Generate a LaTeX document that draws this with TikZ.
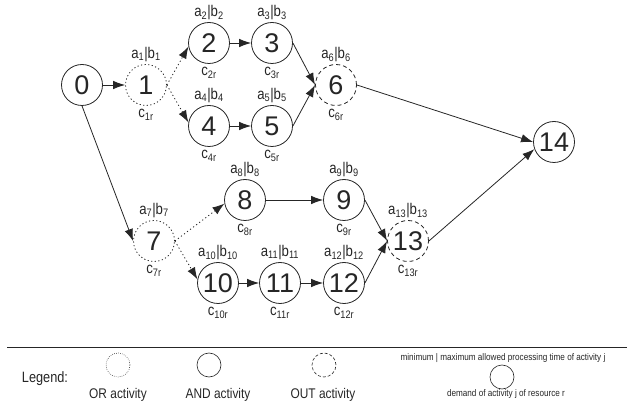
\documentclass[tikz,border=0pt]{standalone}
\usepackage{fontspec}
\setmainfont{Liberation Sans}
\newfontfamily\narrowfont[FakeStretch=0.85]{Liberation Sans}
\usetikzlibrary{arrows.meta,positioning}

\newcommand{\ab}[1]{a\textsubscript{#1}|b\textsubscript{#1}}
\newcommand{\cdem}[1]{c\textsubscript{#1r}}

\begin{document}
\begin{tikzpicture}[x=1pt, y=-1pt, >={Latex[length=12pt,width=8.5pt]}, line width=0.8pt, color={black!85},
  main node/.style={circle,draw,minimum size=41pt,inner sep=0pt,font=\fontsize{27}{27}\selectfont},
  or node/.style={main node,dash pattern=on 1.2pt off 2.4pt},
  out node/.style={main node,dash pattern=on 4pt off 3pt},
  or edge/.style={dash pattern=on 1.2pt off 2.6pt},
  lab/.style={inner sep=0pt,font=\narrowfont\fontsize{15.5}{15.5}\selectfont},
  key/.style={circle,draw,minimum size=24pt,inner sep=0pt,line width=0.6pt},
  keytext/.style={inner sep=0pt,font=\narrowfont\fontsize{14}{14}\selectfont},
  tinytext/.style={inner sep=0pt,font=\narrowfont\fontsize{9.6}{9.6}\selectfont}]
\useasboundingbox (0,0) rectangle (632,403);

\node [main node] (v0) at (82,85) {0};
\node [or node] (v1) at (146,85) {1};
\node [main node] (v2) at (209,43) {2};
\node [main node] (v3) at (272,43) {3};
\node [main node] (v4) at (209,126) {4};
\node [main node] (v5) at (272,126) {5};
\node [out node] (v6) at (336,85) {6};
\node [or node] (v7) at (154,241) {7};
\node [main node] (v8) at (245,200) {8};
\node [main node] (v9) at (344,200) {9};
\node [main node] (v10) at (218,283) {10};
\node [main node] (v11) at (280,283) {11};
\node [main node] (v12) at (344,283) {12};
\node [out node] (v13) at (408,241) {13};
\node [main node] (v14) at (554,142) {14};

% time window above, resource demand below
\foreach \n in {1,...,13} {
  \node [lab, above=2pt of v\n] (a\n) {\ab{\n}};
  \node [lab, below=3pt of v\n] (c\n) {\cdem{\n}};
}

\path [->]
    (v0) edge (v1)
    (v1.east) edge [or edge] (v2.190)
    (v1.east) edge [or edge] (v4.170)
    (v2) edge (v3)
    (v4) edge (v5)
    (v3.east) edge (v6.west)
    (v5.east) edge (v6.west)
    (v6.east) edge (v14.west)
    (v0.south) edge (v7.west)
    (v7.east) edge [or edge] (v8.190)
    (v7.east) edge [or edge] (v10.170)
    (v8) edge (v9)
    (v10) edge (v11)
    (v11) edge (v12)
    (v9.east) edge (v13.west)
    (v12.east) edge (v13.west)
    (v13.east) edge (v14.200)
         ;

% legend
\draw (7,347) -- (627,347);
\node [keytext, font=\narrowfont\fontsize{15}{15}\selectfont] (legend) at (45,379) {Legend:};
\node [key, dash pattern=on 0.6pt off 1.4pt] (korc) at (118,365) {};
\node [keytext] (kor) at (118,395) {OR activity};
\node [key] (kandc) at (209,365) {};
\node [keytext] (kand) at (218,395) {AND activity};
\node [key, dash pattern=on 3pt off 2pt] (koutc) at (324,365) {};
\node [keytext] (kout) at (323,395) {OUT activity};
\node [tinytext] (kmin) at (503,358) {minimum | maximum allowed processing time of activity j};
\node [key] (kdemc) at (502,377) {};
\node [tinytext] (kdem) at (506,394) {demand of activity j of resource r};
\end{tikzpicture}
\end{document}
